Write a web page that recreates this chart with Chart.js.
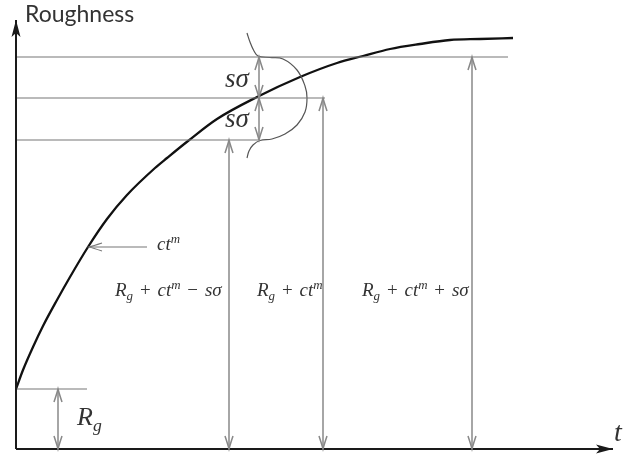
<!DOCTYPE html>
<html><head><meta charset="utf-8">
<script src="https://cdn.jsdelivr.net/npm/chart.js@4"></script>
<style>html,body{margin:0;padding:0;background:#fff}</style>
</head><body>
<canvas id="c" width="644" height="459"></canvas>
<script>
// ---- data (t in arbitrary time units, roughness in arbitrary units) ----
const curveT = [0, 0.7, 1.7, 2.7, 4.1, 5.4, 7.2, 9.1, 11.1, 13.9, 15.1, 17.2, 20.1, 24.1, 28.4, 32.1, 34.7, 37.4, 40.4, 43.4, 46.4, 49.7];
const curveR = [6.0, 7.9, 10.2, 12.3, 14.9, 17.2, 20.2, 23.0, 25.4, 28.1, 29.1, 30.8, 33.0, 35.2, 37.2, 38.6, 39.3, 40.0, 40.5, 40.9, 41.0, 41.1];
const Rg = 6.0;
const levelLow = 30.9;   // Rg + ct^m - sσ
const levelMean = 35.1;  // Rg + ct^m
const levelHigh = 39.2;  // Rg + ct^m + sσ
const lineEndRg = 7.1, lineEndLow = 24.2, lineEndMean = 30.9, lineEndHigh = 49.2;
const tLow = 21.3, tMean = 30.7, tHigh = 45.6, tSigma = 24.3, tRg = 4.2;
const ctmArrowT = [13.1, 7.3];
const ctmArrowR = 20.2;
const distT = [23.1, 23.4, 23.8, 24.2, 25.4, 26.7, 28.1, 28.9, 29.1, 28.9, 28.1, 26.9, 25.6, 24.4, 23.7, 23.3, 23.1];
const distR = [41.6, 40.7, 39.8, 39.3, 39.15, 39.0, 37.9, 36.3, 35.1, 33.7, 32.4, 31.5, 31.0, 30.85, 30.4, 29.8, 29.1];
const axisTMax = 59.7, axisRMax = 42.9;

const pts = (xs, ys) => xs.map((x, i) => ({x, y: ys[i]}));
const GRAY = '#777', LGRAY = '#888';

function seg(x0, y0, x1, y1, color, width, arrows) {
  return {data: [{x: x0, y: y0}, {x: x1, y: y1}], borderColor: color, borderWidth: width,
          showLine: true, pointRadius: 0, clip: false, arrows: arrows || {}};
}

const datasets = [
  seg(0, 0, 0, axisRMax, '#1a1a1a', 2, {end: 'filled'}),
  seg(0, 0, axisTMax, 0, '#1a1a1a', 2, {end: 'filled'}),
  seg(0, levelHigh, lineEndHigh, levelHigh, GRAY, 1.2),
  seg(0, levelMean, lineEndMean, levelMean, GRAY, 1.2),
  seg(0, levelLow, lineEndLow, levelLow, GRAY, 1.2),
  seg(0, Rg, lineEndRg, Rg, GRAY, 1.2),
  seg(tLow, 0, tLow, levelLow, LGRAY, 1.5, {start: 'open', end: 'open'}),
  seg(tMean, 0, tMean, levelMean, LGRAY, 1.5, {start: 'open', end: 'open'}),
  seg(tHigh, 0, tHigh, levelHigh, LGRAY, 1.5, {start: 'open', end: 'open'}),
  seg(tRg, 0, tRg, Rg, LGRAY, 1.5, {start: 'open', end: 'open'}),
  seg(tSigma, levelLow, tSigma, levelMean, LGRAY, 1.5, {start: 'open', end: 'open'}),
  seg(tSigma, levelMean, tSigma, levelHigh, LGRAY, 1.5, {start: 'open', end: 'open'}),
  seg(ctmArrowT[0], ctmArrowR, ctmArrowT[1], ctmArrowR, GRAY, 1.2, {end: 'open'}),
  {data: pts(distT, distR), borderColor: '#555', borderWidth: 1.2, showLine: true, pointRadius: 0,
   tension: 0.4, clip: false, arrows: {}},
  {data: pts(curveT, curveR), borderColor: '#111', borderWidth: 2.3, showLine: true, pointRadius: 0,
   cubicInterpolationMode: 'monotone', clip: false, arrows: {}}
];

// ---- text labels (positions in data units) ----
const I = 'i', R = 'r', OP = 'op', SUB = 'sub', SUP = 'sup';
const labels = [
  {x: 0.9, y: 42.7, size: 23, sans: true, parts: [['Roughness', R]]},
  {x: 59.8, y: 0.8, size: 28, parts: [['t', I]]},
  {x: 6.1, y: 2.4, size: 26, parts: [['R', I], ['g', SUB]]},
  {x: 20.9, y: 36.2, size: 27, parts: [['sσ', I]]},
  {x: 20.9, y: 32.2, size: 27, parts: [['sσ', I]]},
  {x: 14.1, y: 19.9, size: 19, parts: [['ct', I], ['m', SUP]]},
  {x: 9.9, y: 15.3, size: 19, parts: [['R', I], ['g', SUB], ['+', OP], ['ct', I], ['m', SUP], ['−', OP], ['sσ', I]]},
  {x: 24.1, y: 15.3, size: 19, parts: [['R', I], ['g', SUB], ['+', OP], ['ct', I], ['m', SUP]]},
  {x: 34.6, y: 15.3, size: 19, parts: [['R', I], ['g', SUB], ['+', OP], ['ct', I], ['m', SUP], ['+', OP], ['sσ', I]]}
];

function arrowHead(ctx, x, y, ang, type, color, lw) {
  ctx.save();
  ctx.translate(x, y); ctx.rotate(ang);
  if (type === 'filled') {
    ctx.fillStyle = color;
    ctx.beginPath(); ctx.moveTo(0, 0); ctx.lineTo(-17, -4.5); ctx.lineTo(-13, 0); ctx.lineTo(-17, 4.5); ctx.closePath(); ctx.fill();
  } else {
    ctx.strokeStyle = color; ctx.lineWidth = lw;
    ctx.beginPath(); ctx.moveTo(-13, -4); ctx.quadraticCurveTo(-4, -1, 0, 0); ctx.quadraticCurveTo(-4, 1, -13, 4); ctx.stroke();
  }
  ctx.restore();
}

const decor = {
  id: 'decor',
  afterDatasetsDraw(chart) {
    const ctx = chart.ctx;
    chart.data.datasets.forEach((ds, i) => {
      const a = ds.arrows || {};
      const el = chart.getDatasetMeta(i).data;
      if (el.length < 2) return;
      const p0 = el[0], p1 = el[1], q0 = el[el.length - 1], q1 = el[el.length - 2];
      if (a.start) arrowHead(ctx, p0.x, p0.y, Math.atan2(p0.y - p1.y, p0.x - p1.x), a.start, ds.borderColor, ds.borderWidth);
      if (a.end) arrowHead(ctx, q0.x, q0.y, Math.atan2(q0.y - q1.y, q0.x - q1.x), a.end, ds.borderColor, ds.borderWidth);
    });
    const xs = chart.scales.x, ys = chart.scales.y;
    ctx.save();
    ctx.textBaseline = 'alphabetic';
    labels.forEach(L => {
      let cx = xs.getPixelForValue(L.x);
      const by = ys.getPixelForValue(L.y);
      L.parts.forEach(([t, s]) => {
        let fs = L.size, dy = 0, it = (s !== R && s !== OP);
        if (s === SUB) { fs = L.size * 0.68; dy = L.size * 0.22; }
        if (s === SUP) { fs = L.size * 0.68; dy = -L.size * 0.38; }
        if (L.sans) { ctx.font = fs + 'px Lato'; ctx.fillStyle = '#333'; }
        else { ctx.font = (it ? 'italic ' : '') + fs + 'px "Liberation Serif"'; ctx.fillStyle = '#333'; }
        if (s === OP) cx += L.size * 0.36;
        ctx.fillText(t, cx, by + dy);
        cx += ctx.measureText(t).width;
        if (s === OP) cx += L.size * 0.36;
      });
    });
    ctx.restore();
  }
};

new Chart(document.getElementById('c'), {
  type: 'scatter',
  data: {datasets},
  options: {
    responsive: false, animation: false, devicePixelRatio: 1,
    layout: {padding: {left: 16, right: 0, top: 0, bottom: 10}},
    plugins: {legend: {display: false}, tooltip: {enabled: false}},
    scales: {
      x: {type: 'linear', min: 0, max: 62.8, display: false},
      y: {type: 'linear', min: 0, max: 44.9, display: false}
    }
  },
  plugins: [decor]
});
</script>
</body></html>
